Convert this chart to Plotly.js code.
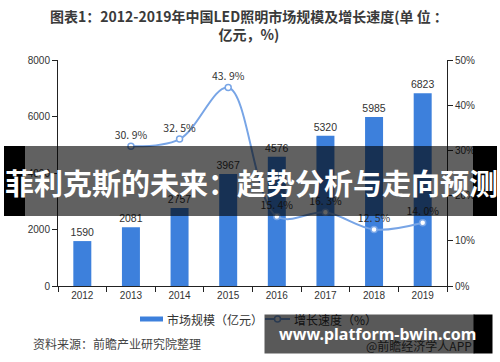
<!DOCTYPE html>
<html>
<head>
<meta charset="utf-8">
<script src="https://cdn.plot.ly/plotly-3.0.1.min.js"></script>
<style>html,body{margin:0;padding:0;background:#fff;}#chart{width:500px;height:362px;}</style>
</head>
<body>
<div id="chart"></div>
<script>
const years = ['2012','2013','2014','2015','2016','2017','2018','2019'];
const marketSize = [1590, 2081, 2757, 3967, 4576, 5320, 5985, 6823];
const growthRate = [null, 30.9, 32.5, 43.9, 15.4, 16.3, 12.5, 14.0];
const growthLabels = ['', '30. 9%', '32. 5%', '43. 9%', '15. 4%', '16. 3%', '12. 5%', '14. 0%'];
const titleText = '<b>图表1：2012-2019年中国LED照明市场规模及增长速度(单 位 ：<br>亿元，%)</b>';
const legendBar = '市场规模（亿元）';
const legendLine = '增长速度（%）';
const sourceText = '资料来源：前瞻产业研究院整理';
const appText = '@前瞻经济学人APP';
const bannerText = '菲利克斯的未来：趋势分析与走向预测';
const siteText = 'www.platform-bwin.com';

const W = 500, H = 362;
const M = {l: 58, r: 53, t: 60, b: 76};
const pw = W - M.l - M.r, ph = H - M.t - M.b;
const px = x => (x - M.l) / pw;
const py = y => (H - M.b - y) / ph;

const barColor = '#3d80dc';
const lineColor = '#78a5e6';
const txt = '#333333';
const font = 'Liberation Sans, Arial, Noto Sans CJK SC, sans-serif';
const cjk = 'Noto Sans CJK SC, sans-serif';

const traces = [
  {
    type: 'bar', x: years, y: marketSize, name: legendBar,
    marker: {color: barColor}, width: 0.37,
    text: marketSize.map(String), textposition: 'outside', constraintext: 'none',
    textfont: {size: 10.5, color: txt, family: font}, cliponaxis: false,
    hoverinfo: 'skip', showlegend: false
  },
  {
    type: 'scatter', x: years, y: growthRate, yaxis: 'y2', name: legendLine,
    mode: 'lines+markers+text',
    line: {color: lineColor, width: 2, shape: 'spline', smoothing: 1},
    marker: {size: 6, color: '#ffffff', line: {color: lineColor, width: 1.5}},
    text: growthLabels, textposition: 'top center',
    textfont: {size: 10.5, color: txt, family: cjk}, cliponaxis: false,
    hoverinfo: 'skip', showlegend: false
  }
];

const axisCommon = {
  showline: true, linecolor: '#222', linewidth: 1, showgrid: false, zeroline: false,
  ticks: 'outside', ticklen: 5, tickcolor: '#222', tickfont: {size: 10, color: txt, family: font}
};

const layout = {
  width: W, height: H, margin: M,
  paper_bgcolor: '#fff', plot_bgcolor: '#fff',
  showlegend: false, bargap: 0.63,
  xaxis: Object.assign({}, axisCommon, {type: 'category', tickson: 'boundaries'}),
  yaxis: Object.assign({}, axisCommon, {range: [0, 8000], dtick: 2000, tickformat: 'd'}),
  yaxis2: Object.assign({}, axisCommon, {overlaying: 'y', side: 'right', range: [0, 50], dtick: 10, ticksuffix: '%'}),
  shapes: [
    {type: 'rect', xref: 'paper', yref: 'paper', x0: px(140), x1: px(163), y0: py(321.5), y1: py(316.5), fillcolor: barColor, line: {width: 0}},
    {type: 'line', xref: 'paper', yref: 'paper', x0: px(265), x1: px(290), y0: py(319), y1: py(319), line: {color: lineColor, width: 2}},
    {type: 'circle', xref: 'paper', yref: 'paper', x0: px(274.5), x1: px(280.5), y0: py(322), y1: py(316), fillcolor: '#fff', line: {color: lineColor, width: 1.5}},
    {type: 'rect', layer: 'above', xref: 'paper', yref: 'paper', x0: px(4), x1: px(25), y0: py(216), y1: py(146), fillcolor: '#000', line: {width: 0}},
    {type: 'rect', layer: 'above', xref: 'paper', yref: 'paper', x0: px(25), x1: px(473), y0: py(216), y1: py(146), fillcolor: 'rgba(0,0,0,0.62)', line: {width: 0}},
    {type: 'rect', layer: 'above', xref: 'paper', yref: 'paper', x0: px(473), x1: px(497), y0: py(216), y1: py(146), fillcolor: '#000', line: {width: 0}}
  ],
  annotations: [
    {text: titleText, xref: 'paper', yref: 'paper', x: px(249), y: py(25), xanchor: 'center', yanchor: 'middle', showarrow: false,
     font: {size: 14, color: '#3a3a3a', family: cjk}},
    {text: legendBar, xref: 'paper', yref: 'paper', x: px(165), y: py(319), xanchor: 'left', yanchor: 'middle', showarrow: false,
     font: {size: 12, color: txt, family: cjk}},
    {text: legendLine, xref: 'paper', yref: 'paper', x: px(292), y: py(319), xanchor: 'left', yanchor: 'middle', showarrow: false,
     font: {size: 12, color: txt, family: cjk}},
    {text: sourceText, xref: 'paper', yref: 'paper', x: px(31), y: py(343), xanchor: 'left', yanchor: 'middle', showarrow: false,
     font: {size: 12, color: '#444', family: cjk}},
    {text: appText, xref: 'paper', yref: 'paper', x: px(474), y: py(345), xanchor: 'right', yanchor: 'middle', showarrow: false,
     font: {size: 12, color: '#444', family: cjk}},
    {text: ' ', xref: 'paper', yref: 'paper', x: px(264), y: py(334), xanchor: 'left', yanchor: 'middle', showarrow: false,
     width: 207, height: 36, borderpad: 1, bgcolor: 'rgba(0,0,0,0.65)'},
    {text: ' ', xref: 'paper', yref: 'paper', x: px(473), y: py(334), xanchor: 'left', yanchor: 'middle', showarrow: false,
     width: 16, height: 36, borderpad: 1, bgcolor: '#000'},
    {text: '<b>' + siteText + '</b>', xref: 'paper', yref: 'paper', x: px(377), y: py(334), xanchor: 'center', yanchor: 'middle', showarrow: false,
     font: {size: 16, color: '#fff', family: 'Noto Sans, DejaVu Sans, sans-serif'}},
    {text: '<b>' + bannerText + '</b>', xref: 'paper', yref: 'paper', x: px(251), y: py(182), xanchor: 'center', yanchor: 'middle', showarrow: false,
     font: {size: 29, color: '#fff', family: cjk}}
  ]
};

Plotly.newPlot('chart', traces, layout, {staticPlot: true, displayModeBar: false});
</script>
</body>
</html>
